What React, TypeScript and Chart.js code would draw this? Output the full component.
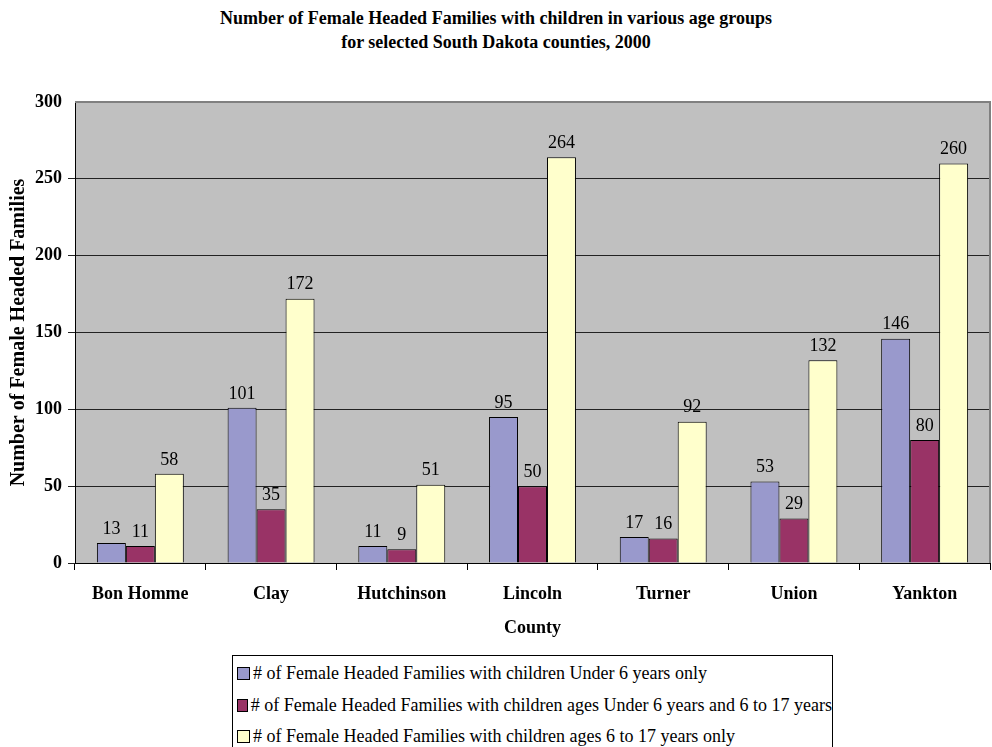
import React, { useEffect, useRef } from "react";
import { Chart, registerables } from "chart.js";

Chart.register(...registerables);

const counties = ["Bon Homme", "Clay", "Hutchinson", "Lincoln", "Turner", "Union", "Yankton"];
const under6Only = [13, 101, 11, 95, 17, 53, 146];
const under6And6to17 = [11, 35, 9, 50, 16, 29, 80];
const ages6to17Only = [58, 172, 51, 264, 92, 132, 260];
const seriesNames = [
  "# of Female Headed Families with children Under 6 years only",
  "# of Female Headed Families with children ages Under 6 years and 6 to 17 years",
  "# of Female Headed Families with children ages 6 to 17 years only",
];
const seriesColors = ["#9999CC", "#993366", "#FFFFCC"];
const titleLines = [
  "Number of Female Headed Families with children in various age groups",
  "for selected South Dakota counties, 2000",
];
const yTitle = "Number of Female Headed Families";
const xTitle = "County";

const SERIF = '"Liberation Serif", "Times New Roman", serif';

const plotDecor = {
  id: "plotDecor",
  beforeDraw(chart: any) {
    const { ctx, chartArea } = chart;
    ctx.save();
    ctx.fillStyle = "#C0C0C0";
    ctx.fillRect(chartArea.left, chartArea.top, chartArea.right - chartArea.left, chartArea.bottom - chartArea.top);
    ctx.restore();
  },
  afterDraw(chart: any) {
    const { ctx, chartArea } = chart;
    ctx.save();
    ctx.strokeStyle = "#808080";
    ctx.lineWidth = 2;
    ctx.beginPath();
    ctx.moveTo(chartArea.left, chartArea.top);
    ctx.lineTo(chartArea.right, chartArea.top);
    ctx.lineTo(chartArea.right, chartArea.bottom);
    ctx.stroke();
    ctx.restore();
  },
};

const valueLabels = {
  id: "valueLabels",
  afterDatasetsDraw(chart: any) {
    const { ctx } = chart;
    ctx.save();
    ctx.font = `18px ${SERIF}`;
    ctx.fillStyle = "#000";
    ctx.textAlign = "center";
    ctx.textBaseline = "bottom";
    chart.data.datasets.forEach((ds: any, i: number) => {
      const meta = chart.getDatasetMeta(i);
      meta.data.forEach((bar: any, j: number) => {
        ctx.fillText(String(ds.data[j]), bar.x, bar.y - 5);
      });
    });
    ctx.restore();
  },
};

export default function App() {
  const ref = useRef<HTMLCanvasElement>(null);
  useEffect(() => {
    const chart = new Chart(ref.current!, {
      type: "bar",
      data: {
        labels: counties,
        datasets: [under6Only, under6And6to17, ages6to17Only].map((d, i) => ({
          label: seriesNames[i],
          data: d,
          backgroundColor: seriesColors[i],
          borderColor: "#000",
          borderWidth: 1,
          categoryPercentage: 0.665,
          barPercentage: 1,
        })),
      },
      options: {
        responsive: false,
        animation: false,
        events: [],
        layout: { padding: { top: 102, right: 2, left: 0, bottom: 0 } },
        plugins: { legend: { display: false }, title: { display: false }, tooltip: { enabled: false } },
        scales: {
          x: {
            offset: true,
            grid: { display: true, drawOnChartArea: false, offset: true, tickLength: 7, color: "#000" },
            border: { display: true, color: "#000", width: 1 },
            ticks: { padding: 14, color: "#000", font: { family: SERIF, size: 18, weight: "bold" } },
            title: { display: true, text: xTitle, padding: { top: 0, bottom: 1 }, color: "#000", font: { family: SERIF, size: 18, weight: "bold" } },
            afterFit(scale: any) {
              scale.height = 77;
            },
          },
          y: {
            min: 0,
            max: 300,
            ticks: { stepSize: 50, padding: 6, color: "#000", font: { family: SERIF, size: 18, weight: "bold" } },
            grid: {
              tickLength: 7,
              color: (c: any) => (c.tick && c.tick.value === 300 ? "rgba(0,0,0,0)" : "#222"),
            },
            border: { display: true, color: "#000", width: 1 },
            title: { display: true, text: yTitle, padding: { top: 7, bottom: 0 }, color: "#000", font: { family: SERIF, size: 20, weight: "bold" } },
            afterFit(scale: any) {
              scale.width = 75;
            },
          },
        },
      },
      plugins: [plotDecor, valueLabels],
    });
    return () => chart.destroy();
  }, []);

  return (
    <div style={{ position: "absolute", left: 0, top: 0, width: 992, height: 747, background: "#fff", overflow: "hidden", fontFamily: SERIF }}>
      <div style={{ position: "absolute", left: 0, top: 6, width: 992, textAlign: "center", fontWeight: "bold", fontSize: 18, lineHeight: "24px", color: "#000" }}>
        {titleLines.map((t, i) => (
          <div key={i}>{t}</div>
        ))}
      </div>
      <canvas ref={ref} width={992} height={640} style={{ position: "absolute", left: 0, top: 0 }} />
      <div style={{ position: "absolute", left: 232, top: 655, width: 601, height: 110, border: "1px solid #000", boxSizing: "border-box", paddingTop: 2 }}>
        {seriesNames.map((n, i) => (
          <div key={i} style={{ display: "flex", alignItems: "center", height: 31.5, paddingLeft: 4, fontSize: 18, color: "#000", whiteSpace: "nowrap" }}>
            <span style={{ display: "inline-block", width: 11, height: 11, background: seriesColors[i], border: "1px solid #000", marginRight: 3 }} />
            <span>{n}</span>
          </div>
        ))}
      </div>
    </div>
  );
}
